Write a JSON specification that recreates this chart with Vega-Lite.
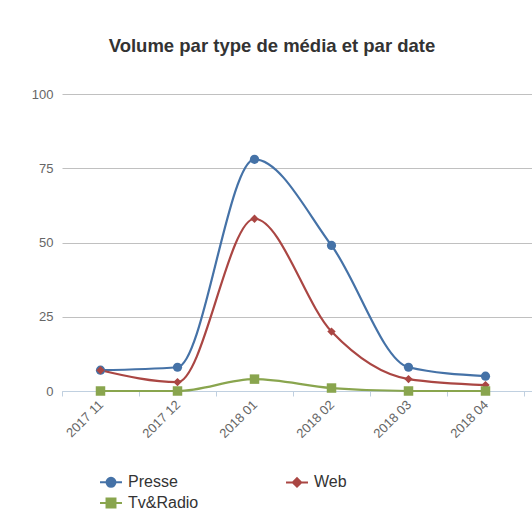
{
  "$schema": "https://vega.github.io/schema/vega-lite/v6.json",
  "autosize": "none",
  "width": 470,
  "height": 297,
  "padding": {"left": 62, "top": 94, "right": 0, "bottom": 125},
  "background": "white",
  "config": {
    "font": "Liberation Sans",
    "view": {"stroke": null}
  },
  "title": {
    "text": "Volume par type de média et par date",
    "fontSize": 18.5,
    "fontWeight": "bold",
    "color": "#333333",
    "anchor": "middle",
    "baseline": "alphabetic",
    "dx": -25,
    "offset": 18
  },
  "data": {
    "values": [
      {"date": "2017 11", "media": "Presse", "volume": 7},
      {"date": "2017 12", "media": "Presse", "volume": 8},
      {"date": "2018 01", "media": "Presse", "volume": 78},
      {"date": "2018 02", "media": "Presse", "volume": 49},
      {"date": "2018 03", "media": "Presse", "volume": 8},
      {"date": "2018 04", "media": "Presse", "volume": 5},
      {"date": "2017 11", "media": "Web", "volume": 7},
      {"date": "2017 12", "media": "Web", "volume": 3},
      {"date": "2018 01", "media": "Web", "volume": 58},
      {"date": "2018 02", "media": "Web", "volume": 20},
      {"date": "2018 03", "media": "Web", "volume": 4},
      {"date": "2018 04", "media": "Web", "volume": 2},
      {"date": "2017 11", "media": "Tv&Radio", "volume": 0},
      {"date": "2017 12", "media": "Tv&Radio", "volume": 0},
      {"date": "2018 01", "media": "Tv&Radio", "volume": 4},
      {"date": "2018 02", "media": "Tv&Radio", "volume": 1},
      {"date": "2018 03", "media": "Tv&Radio", "volume": 0},
      {"date": "2018 04", "media": "Tv&Radio", "volume": 0}
    ]
  },
  "encoding": {
    "x": {
      "field": "date",
      "type": "ordinal",
      "scale": {"type": "band", "paddingInner": 0, "paddingOuter": 0.0519, "align": 0},
      "axis": {
        "title": null,
        "labelAngle": -45,
        "labelColor": "#666666",
        "labelFontSize": 13,
        "domainColor": "#C0D0E0",
        "tickColor": "#C0D0E0",
        "tickSize": 5,
        "tickBand": "extent",
        "grid": false,
        "labelPadding": 2,
        "labelOffset": -4
      }
    },
    "y": {
      "field": "volume",
      "type": "quantitative",
      "scale": {"domain": [0, 100], "nice": false},
      "axis": {
        "title": null,
        "values": [0, 25, 50, 75, 100],
        "domain": false,
        "ticks": false,
        "labelPadding": 9,
        "labelColor": "#666666",
        "labelFontSize": 13,
        "gridColor": "#C0C0C0",
        "gridWidth": 1
      }
    },
    "color": {
      "field": "media",
      "type": "nominal",
      "scale": {"domain": ["Presse", "Web", "Tv&Radio"], "range": ["#4572A7", "#AA4643", "#89A54E"]},
      "legend": {
        "title": null,
        "orient": "none",
        "legendX": 41,
        "legendY": 380,
        "direction": "horizontal",
        "columns": 2,
        "columnPadding": 83,
        "rowPadding": 3,
        "labelFontSize": 16,
        "labelColor": "#333333",
        "symbolSize": 196,
        "symbolStrokeWidth": 2,
        "labelOffset": 9,
        "encode": {
          "symbols": {
            "update": {
              "shape": {"signal": "datum.value === 'Presse' ? 'M-1.57,0H1.57M-0.64,0A0.64,0.64,0,1,0,0.64,0A0.64,0.64,0,1,0,-0.64,0Z' : datum.value === 'Web' ? 'M-1.57,0H1.57M0,-0.6L0.6,0L0,0.6L-0.6,0Z' : 'M-1.57,0H1.57M-0.64,-0.64H0.64V0.64H-0.64Z'"},
              "fill": {"signal": "scale('color', datum.value)"},
              "stroke": {"signal": "scale('color', datum.value)"},
              "strokeWidth": {"value": 2}
            }
          }
        }
      }
    }
  },
  "layer": [
    {
      "mark": {"type": "line", "interpolate": "monotone", "strokeWidth": 2.2}
    },
    {
      "transform": [{"filter": "datum.media === 'Presse'"}],
      "mark": {"type": "point", "shape": "circle", "filled": true, "opacity": 1, "size": 85}
    },
    {
      "transform": [{"filter": "datum.media === 'Web'"}],
      "mark": {"type": "point", "shape": "diamond", "filled": true, "opacity": 1, "size": 70}
    },
    {
      "transform": [{"filter": "datum.media === 'Tv&Radio'"}],
      "mark": {"type": "point", "shape": "square", "filled": true, "opacity": 1, "size": 90}
    }
  ]
}
